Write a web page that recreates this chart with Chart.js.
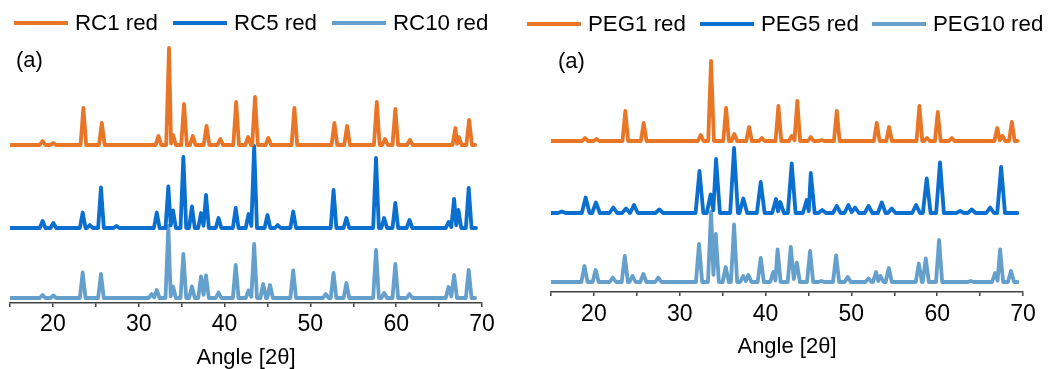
<!DOCTYPE html>
<html><head><meta charset="utf-8">
<script src="https://cdn.jsdelivr.net/npm/chart.js@4.4.1/dist/chart.umd.min.js"></script>
<style>
html,body{margin:0;padding:0;background:#fff;}
#wrap{position:relative;width:1051px;height:369px;overflow:hidden;background:#fff;font-family:'Liberation Sans',Arial,sans-serif;}
canvas{position:absolute;top:0;}
#c1{left:0;} #c2{left:525px;}
.legend{position:absolute;height:28px;line-height:28px;font-size:22.3px;color:#000;white-space:nowrap;}
.legend .item{position:absolute;top:0;display:flex;align-items:center;height:28px;}
.legend .swatch{display:inline-block;width:54px;height:4px;margin-right:7px;}
</style></head><body>
<div id="wrap">
<canvas id="c1" width="525" height="369"></canvas><canvas id="c2" width="526" height="369"></canvas>
<div class="legend" id="lg1" style="left:0;top:9px;width:525px;"></div>
<div class="legend" id="lg2" style="left:525px;top:10px;width:526px;"></div>
</div>
<script>
const angleMin = 15, angleMax = 70;
const tickLabels = [20, 30, 40, 50, 60, 70];
const axisTitle = 'Angle [2\u03b8]';
const panelLabel = '(a)';
const leftNames = ['RC1 red', 'RC5 red', 'RC10 red'];
const rightNames = ['PEG1 red', 'PEG5 red', 'PEG10 red'];

// RC1 red: peak angles (2θ) and heights (a.u.)
const rc1Angles = [18.8, 20.05, 23.55, 25.7, 32.3, 33.53, 34.0, 35.28, 36.3, 37.9, 39.5, 41.35, 42.75, 43.55, 45.1, 48.14, 52.8, 54.28, 57.74, 58.7, 59.9, 61.6, 66.9, 67.3, 68.5];
const rc1Heights = [4, 2, 37, 22, 9, 97, 10, 41, 9, 19, 6, 43, 8, 48, 7, 37, 22, 19, 43, 6, 36, 5, 17, 8, 25];
// RC5 red
const rc5Angles = [18.8, 20.05, 23.47, 24.3, 25.6, 27.4, 32.1, 33.45, 34.0, 35.2, 36.2, 37.26, 37.84, 39.3, 41.3, 42.8, 43.45, 45.0, 46.2, 48.0, 52.7, 54.2, 57.65, 58.6, 59.9, 61.55, 66.1, 66.75, 67.25, 68.45];
const rc5Heights = [7, 5, 15.5, 3, 40.5, 2, 15.5, 41.5, 17.5, 71, 21.5, 15, 33, 10, 20, 14, 82, 13, 3, 16.5, 38, 10, 70, 10, 25, 8, 6, 29, 18, 40];
// RC10 red
const rc10Angles = [18.8, 20.05, 23.47, 25.6, 31.5, 32.1, 33.45, 34.0, 35.2, 36.2, 37.26, 37.84, 39.3, 41.3, 42.8, 43.45, 44.5, 45.3, 48.0, 51.8, 52.7, 54.2, 57.65, 58.6, 59.9, 61.55, 66.1, 66.75, 68.45];
const rc10Heights = [3, 2.5, 25.5, 24, 4, 8, 72, 11.5, 44, 11.5, 21.5, 22.5, 5.5, 33, 7.5, 54, 14, 13, 27.5, 4, 25, 15, 48, 5, 34, 4, 11, 23, 28];
// PEG1 red
const peg1Angles = [18.96, 20.3, 23.66, 25.8, 32.45, 33.65, 35.4, 36.36, 38.08, 39.56, 41.5, 43.05, 43.7, 45.27, 46.55, 48.3, 52.96, 54.4, 57.93, 58.8, 60.07, 61.7, 67.0, 67.6, 68.7];
const peg1Heights = [3, 2, 30, 18, 6, 80, 33, 7, 14, 3, 35, 5, 40, 4, 1, 30, 18, 14, 35, 3, 29, 3, 13, 5, 19];
// PEG5 red
const peg5Angles = [16.25, 19.04, 20.24, 22.26, 23.74, 24.67, 27.62, 32.3, 33.6, 34.23, 36.33, 37.41, 39.44, 41.22, 41.7, 43.05, 44.8, 45.27, 46.6, 48.3, 49.65, 50.43, 52.0, 53.54, 54.7, 57.54, 58.78, 60.33, 62.67, 64.03, 66.17, 67.45];
const peg5Heights = [1.5, 15.5, 10.5, 5.5, 4.5, 8, 3.5, 42, 18.5, 54, 65, 14.5, 31, 14, 11, 49.5, 13, 40, 3, 7, 8, 5.5, 7, 10.5, 4.5, 8, 34.5, 50.5, 2, 3.5, 5.5, 46];
// PEG10 red
const peg10Angles = [18.9, 20.2, 22.2, 23.6, 24.5, 25.76, 27.5, 32.25, 33.65, 34.2, 35.36, 36.33, 37.4, 38.0, 39.44, 40.9, 41.4, 42.94, 43.64, 45.19, 46.5, 48.22, 49.58, 52.0, 52.88, 53.4, 54.36, 57.86, 58.67, 60.22, 63.9, 66.75, 67.33, 68.6];
const peg10Heights = [16, 12, 4.5, 26, 6, 8, 4.5, 38, 70, 48, 15, 57.5, 6, 7, 24, 10, 32.5, 35, 19.5, 31, 1, 26.5, 5, 3.5, 10, 6, 14, 18.5, 23.5, 42, 1, 9, 32.5, 11];

// scan end angles and vertical stacking offsets (a.u.)
const leftScanEnd = [69.2, 69.3, 69.2];
const rightScanEnd = [69.35, 69.35, 69.35];
const leftOffsets = [158, 75, 5];
const rightOffsets = [151, 79, 10];

const colors = ['#E97526', '#0A6FCF', '#64A0CB'];
const FONT = "'Liberation Sans', Arial, sans-serif";
const leftHalfWidths = [0.33, 0.33, 0.33];
const rightHalfWidths = [0.33, 0.45, 0.36];
const leftLegendX = [14, 173, 332];
const rightLegendX = [2, 175, 347];

function buildTrace(angles, heights, offset, endAngle, hw) {
  const pts = [{x: angleMin, y: offset}];
  for (let i = 0; i < angles.length; i++) {
    const a = angles[i], h = heights[i];
    if (i === 0 || a - hw > angles[i - 1] + hw) {
      pts.push({x: a - hw, y: offset});
    } else {
      pts.push({x: (a + angles[i - 1]) / 2, y: offset + Math.min(h, heights[i - 1]) * 0.15});
    }
    pts.push({x: a, y: offset + h});
    if (i === angles.length - 1 || a + hw < angles[i + 1] - hw) {
      pts.push({x: a + hw, y: offset});
    }
  }
  pts.push({x: endAngle, y: offset});
  return pts;
}

const panelLabelPlugin = {
  id: 'panelLabel',
  afterDraw(chart, args, opts) {
    const ctx = chart.ctx;
    ctx.save();
    ctx.font = '22px ' + FONT;
    ctx.fillStyle = '#000';
    ctx.textBaseline = 'alphabetic';
    ctx.textAlign = 'left';
    ctx.fillText(panelLabel, chart.chartArea.left + opts.dx, opts.y);
    ctx.restore();
  }
};

function buildLegend(el, chart, xs) {
  chart.data.datasets.forEach((ds, i) => {
    const item = document.createElement('span');
    item.className = 'item';
    item.style.left = xs[i] + 'px';
    const sw = document.createElement('span');
    sw.className = 'swatch';
    sw.style.background = ds.borderColor;
    const tx = document.createElement('span');
    tx.textContent = ds.label;
    item.appendChild(sw); item.appendChild(tx);
    el.appendChild(item);
  });
}

function makeChart(id, names, traces, pad, axisH, tickPad, labelOpts) {
  const datasets = names.map((n, i) => ({
    label: n,
    data: traces[i],
    borderColor: colors[i],
    backgroundColor: colors[i],
    borderWidth: 3.8,
    pointRadius: 0,
    tension: 0,
    borderJoinStyle: 'round',
    borderCapStyle: 'round',
    fill: false
  }));
  const chart = new Chart(document.getElementById(id), {
    type: 'line',
    data: {datasets},
    plugins: [panelLabelPlugin],
    options: {
      responsive: false,
      animation: false,
      layout: {padding: pad},
      plugins: {
        panelLabel: labelOpts,
        tooltip: {enabled: false},
        legend: {display: false}
      },
      scales: {
        x: {
          type: 'linear',
          min: angleMin,
          max: angleMax,
          afterFit(scale) { scale.height = axisH; },
          border: {display: true, color: '#404040', width: 1.5},
          grid: {display: true, drawOnChartArea: false, drawTicks: true, tickLength: 4, tickColor: '#404040', lineWidth: 1.5},
          ticks: {
            stepSize: 5,
            autoSkip: false,
            maxRotation: 0,
            padding: tickPad,
            color: '#000',
            font: {size: 23, family: FONT},
            callback: (v) => tickLabels.includes(v) ? String(v) : ''
          },
          title: {display: true, text: axisTitle, color: '#000', font: {size: 22, family: FONT}, padding: {top: 0, bottom: 0}}
        },
        y: {display: false, min: 0, max: 260}
      }
    }
  });
  chart.options.scales.y.max = chart.chartArea.bottom - chart.chartArea.top;
  chart.update('none');
  return chart;
}

const leftTraces = [
  buildTrace(rc1Angles, rc1Heights, leftOffsets[0], leftScanEnd[0], leftHalfWidths[0]),
  buildTrace(rc5Angles, rc5Heights, leftOffsets[1], leftScanEnd[1], leftHalfWidths[1]),
  buildTrace(rc10Angles, rc10Heights, leftOffsets[2], leftScanEnd[2], leftHalfWidths[2])
];
const rightTraces = [
  buildTrace(peg1Angles, peg1Heights, rightOffsets[0], rightScanEnd[0], rightHalfWidths[0]),
  buildTrace(peg5Angles, peg5Heights, rightOffsets[1], rightScanEnd[1], rightHalfWidths[1]),
  buildTrace(peg10Angles, peg10Heights, rightOffsets[2], rightScanEnd[2], rightHalfWidths[2])
];

const ch1 = makeChart('c1', leftNames, leftTraces, {left: 10, right: 43, top: 40, bottom: -2}, 68, 4, {dx: 6, y: 67});
const ch2 = makeChart('c2', rightNames, rightTraces, {left: 26, right: 28, top: 40, bottom: 9}, 68, 5, {dx: 7, y: 68});
buildLegend(document.getElementById('lg1'), ch1, leftLegendX);
buildLegend(document.getElementById('lg2'), ch2, rightLegendX);
</script>
</body></html>
